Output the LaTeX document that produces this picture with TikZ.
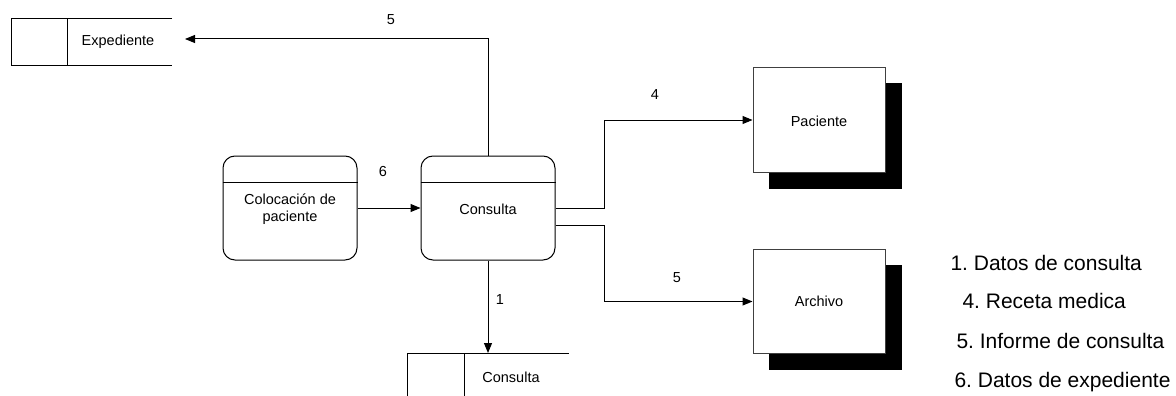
\documentclass[tikz,border=0pt]{standalone}
\usepackage{fontspec}
\setmainfont{Liberation Sans}
\frenchspacing
\usetikzlibrary{arrows.meta,shadows}
\begin{document}
\begin{tikzpicture}[x=1pt,y=-1pt,
  line width=1pt,
  flow/.style={draw=black,-{Triangle[length=10pt,width=8pt]}},
  proc/.style={draw=black,rounded corners=12pt,minimum width=134pt,minimum height=104pt,inner sep=0pt},
  ent/.style={draw=black!75,fill=white,minimum width=132pt,minimum height=104pt,inner sep=0pt,
    copy shadow={shadow xshift=16pt,shadow yshift=-16pt,fill=black,draw=black}},
  lbl/.style={font=\fontsize{14.5}{17}\selectfont,inner sep=0pt},
  leg/.style={font=\fontsize{21}{25}\selectfont,inner sep=0pt,anchor=base west}]
\useasboundingbox (0,0) rectangle (1176,396);

% data store Expediente
\draw (172,19) -- (11,19) -- (11,66) -- (172,66);
\draw (67,19) -- (67,66);
\node[lbl] (exptxt) at (118,42) {Expediente};
\coordinate (expin) at (185,39);

% processes
\node[proc] (col) at (290,208) {};
\draw (col.west |- 0,182) -- (col.east |- 0,182);
\node[lbl,align=center] (coltxt) at (290,209) {Colocación de\\paciente};

\node[proc] (cons) at (488,208) {};
\draw (cons.west |- 0,182) -- (cons.east |- 0,182);
\node[lbl] (constxt) at (488,209) {Consulta};

% entities
\node[ent] (pac) at (819,120) {};
\node[lbl] (pactxt) at (819,121) {Paciente};
\node[ent] (arch) at (819,301.5) {};
\node[lbl] (archtxt) at (819,301) {Archivo};

% bottom data store Consulta
\coordinate (stc) at (488,353);
\draw (407,400) -- (407,353) -- (569,353);
\draw (464,353) -- (464,400);
\node[lbl] (sttxt) at (511,377) {Consulta};

% flows
\draw[flow] (cons.north) -- (cons.north |- expin) -- (expin);
\node[lbl] (l5a) at (391,20) {5};
\draw[flow] (col.east) -- (cons.west);
\node[lbl] (l6) at (383,172) {6};
\draw[flow] (cons.east) -- (604,208) -- (604,120) -- (pac.west);
\node[lbl] (l4) at (655,95) {4};
\draw[flow] ([yshift=-17pt]cons.east) -- (604,225) -- (604,301.5) -- (arch.west);
\node[lbl] (l5b) at (677,278) {5};
\draw[flow] (cons.south) -- (stc);
\node[lbl] (l1) at (500,300) {1};

% legend
\node[leg] (g1) at (950,270) {1. Datos de consulta};
\node[leg] (g4) at (962,308) {4. Receta medica};
\node[leg] (g5) at (956,348) {5. Informe de consulta};
\node[leg] (g6) at (954,387) {6. Datos de expediente};
\end{tikzpicture}
\end{document}
